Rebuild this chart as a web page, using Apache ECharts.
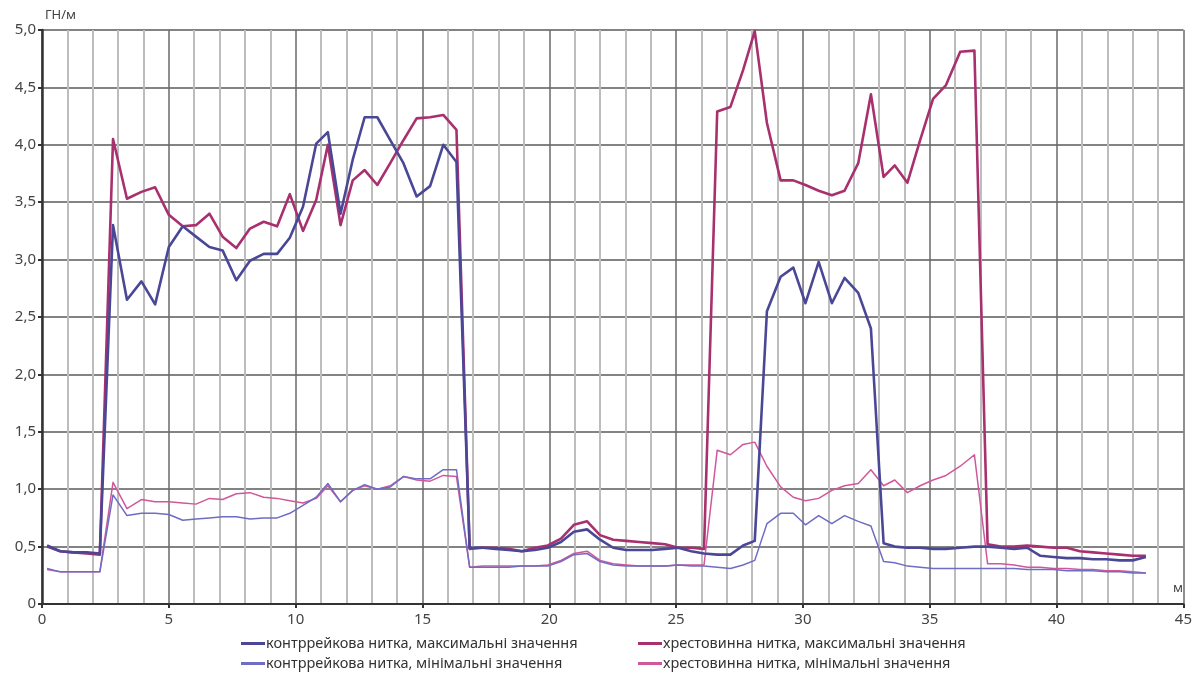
<!DOCTYPE html>
<html>
<head>
<meta charset="utf-8">
<script src="https://cdn.jsdelivr.net/npm/echarts@6/dist/echarts.min.js"></script>
<style>
  html, body { margin: 0; padding: 0; background: #ffffff; }
  #chart { width: 1195px; height: 675px; }
</style>
</head>
<body>
<div id="chart"></div>
<script>
// Distance along the turnout, m
const positions = [
  0.20, 0.72, 1.24, 1.76, 2.28,
  2.80, 3.35, 3.92, 4.46, 5.00, 5.55, 6.07, 6.60, 7.12, 7.66, 8.20, 8.74, 9.27, 9.77,
  10.29, 10.81, 11.27, 11.77, 12.25, 12.72, 13.22, 13.73, 14.25, 14.77, 15.30, 15.82, 16.34,
  16.86, 17.37, 17.89, 18.40, 18.92, 19.43, 19.94, 20.46, 20.97, 21.49, 22.00, 22.52,
  23.03, 23.54, 24.06, 24.57, 25.08, 25.60, 26.10,
  26.62, 27.14, 27.64, 28.10, 28.58, 29.12, 29.62, 30.10, 30.62, 31.14, 31.64, 32.18,
  32.68, 33.18, 33.62, 34.12, 34.62, 35.13, 35.64, 36.20, 36.76, 37.28, 37.80, 38.32,
  38.84, 39.36, 39.88, 40.40, 40.92, 41.44, 41.96, 42.48, 43.00, 43.52
];

// Counter-rail thread, GN/m
const counterRailMax = [
  0.51, 0.46, 0.45, 0.45, 0.44,
  3.30, 2.65, 2.81, 2.61, 3.11, 3.29, 3.20, 3.11, 3.08, 2.82, 2.99, 3.05, 3.05, 3.19,
  3.46, 4.01, 4.11, 3.40, 3.87, 4.24, 4.24, 4.04, 3.84, 3.55, 3.64, 4.00, 3.85,
  0.49, 0.49, 0.48, 0.47, 0.46, 0.47, 0.49, 0.54, 0.63, 0.65, 0.56, 0.49,
  0.47, 0.47, 0.47, 0.48, 0.49, 0.46, 0.44,
  0.43, 0.43, 0.51, 0.55, 2.55, 2.85, 2.93, 2.62, 2.98, 2.62, 2.84, 2.71,
  2.40, 0.53, 0.50, 0.49, 0.49, 0.48, 0.48, 0.49, 0.50, 0.50, 0.49, 0.48,
  0.49, 0.42, 0.41, 0.40, 0.40, 0.39, 0.39, 0.38, 0.38, 0.41
];
const counterRailMin = [
  0.31, 0.28, 0.28, 0.28, 0.28,
  0.95, 0.77, 0.79, 0.79, 0.78, 0.73, 0.74, 0.75, 0.76, 0.76, 0.74, 0.75, 0.75, 0.79,
  0.86, 0.93, 1.05, 0.89, 0.99, 1.04, 1.00, 1.02, 1.11, 1.09, 1.09, 1.17, 1.17,
  0.32, 0.32, 0.32, 0.32, 0.33, 0.33, 0.33, 0.37, 0.43, 0.44, 0.37, 0.34,
  0.33, 0.33, 0.33, 0.33, 0.34, 0.33, 0.33,
  0.32, 0.31, 0.34, 0.38, 0.70, 0.79, 0.79, 0.69, 0.77, 0.70, 0.77, 0.72,
  0.68, 0.37, 0.36, 0.33, 0.32, 0.31, 0.31, 0.31, 0.31, 0.31, 0.31, 0.31,
  0.30, 0.30, 0.30, 0.29, 0.29, 0.29, 0.28, 0.28, 0.27, 0.27
];

// Frog thread, GN/m
const frogMax = [
  0.50, 0.46, 0.45, 0.44, 0.43,
  4.05, 3.53, 3.59, 3.63, 3.39, 3.29, 3.30, 3.40, 3.20, 3.10, 3.27, 3.33, 3.29, 3.57,
  3.25, 3.52, 4.00, 3.30, 3.69, 3.78, 3.65, 3.84, 4.04, 4.23, 4.24, 4.26, 4.13,
  0.48, 0.49, 0.49, 0.48, 0.46, 0.49, 0.51, 0.57, 0.69, 0.72, 0.60, 0.56,
  0.55, 0.54, 0.53, 0.52, 0.49, 0.49, 0.48,
  4.29, 4.33, 4.65, 4.99, 4.19, 3.69, 3.69, 3.65, 3.60, 3.56, 3.60, 3.84,
  4.44, 3.72, 3.82, 3.67, 4.04, 4.40, 4.52, 4.81, 4.82, 0.52, 0.50, 0.50,
  0.51, 0.50, 0.49, 0.49, 0.46, 0.45, 0.44, 0.43, 0.42, 0.42
];
const frogMin = [
  0.30, 0.28, 0.28, 0.28, 0.28,
  1.06, 0.83, 0.91, 0.89, 0.89, 0.88, 0.87, 0.92, 0.91, 0.96, 0.97, 0.93, 0.92, 0.90,
  0.88, 0.92, 1.03, 0.89, 0.99, 1.03, 1.00, 1.03, 1.11, 1.08, 1.07, 1.12, 1.11,
  0.32, 0.33, 0.33, 0.33, 0.33, 0.33, 0.34, 0.38, 0.44, 0.46, 0.38, 0.35,
  0.34, 0.33, 0.33, 0.33, 0.34, 0.34, 0.34,
  1.34, 1.30, 1.39, 1.41, 1.20, 1.02, 0.93, 0.90, 0.92, 0.99, 1.03, 1.05,
  1.17, 1.03, 1.08, 0.97, 1.03, 1.08, 1.12, 1.20, 1.30, 0.35, 0.35, 0.34,
  0.32, 0.32, 0.31, 0.31, 0.30, 0.30, 0.29, 0.29, 0.28, 0.27
];

const seriesNames = [
  'контррейкова нитка, максимальні значення',
  'контррейкова нитка, мінімальні значення',
  'хрестовинна нитка, максимальні значення',
  'хрестовинна нитка, мінімальні значення'
];
const seriesColors = ['#4a4896', '#6e6cc4', '#a8306e', '#d0579a'];
const seriesWidths = [2.6, 1.5, 2.6, 1.5];
const seriesValues = [counterRailMax, counterRailMin, frogMax, frogMin];

const FONT = '"Noto Sans", "Open Sans", sans-serif';

function pairs(values) {
  return positions.map((x, i) => [x, values[i]]);
}

// Frog lines go underneath, counter-rail lines on top
const drawOrder = [2, 3, 0, 1];
const series = drawOrder.map(k => ({
  name: seriesNames[k],
  type: 'line',
  data: pairs(seriesValues[k]),
  showSymbol: false,
  symbol: 'none',
  animation: false,
  color: seriesColors[k],
  lineStyle: { width: seriesWidths[k], color: seriesColors[k], join: 'round' },
  z: 3 + drawOrder.indexOf(k)
}));

// Legend: two columns of two entries, one legend block per entry
const legendSlots = [
  { left: 241, top: 636 },
  { left: 241, top: 656 },
  { left: 638, top: 636 },
  { left: 638, top: 656 }
];
const legends = seriesNames.map((name, k) => ({
  left: legendSlots[k].left,
  top: legendSlots[k].top,
  orient: 'horizontal',
  padding: 0,
  icon: 'rect',
  itemWidth: 24,
  itemHeight: 3,
  selectedMode: false,
  data: [name],
  textStyle: { fontFamily: FONT, fontSize: 14.5, color: '#333', padding: [0, 0, 0, -4] }
}));

const chart = echarts.init(document.getElementById('chart'), null, { renderer: 'canvas' });

chart.setOption({
  backgroundColor: '#ffffff',
  animation: false,
  grid: { left: 42, right: 7, top: 30, bottom: 71, containLabel: false },
  legend: legends,
  xAxis: {
    type: 'value',
    min: 0,
    max: 45,
    interval: 5,
    axisLine: { show: true, onZero: false, lineStyle: { color: '#333', width: 2 } },
    axisTick: { show: true, length: 4, inside: false, lineStyle: { color: '#333', width: 2 } },
    axisLabel: { fontFamily: FONT, fontSize: 15, color: '#444', margin: 8 },
    splitLine: { show: true, lineStyle: { color: '#6a6a6a', width: 1.5 } },
    minorTick: { show: false, splitNumber: 5 },
    minorSplitLine: { show: true, lineStyle: { color: '#bdbdbd', width: 2 } }
  },
  yAxis: {
    type: 'value',
    min: 0,
    max: 5,
    interval: 0.5,
    axisLine: { show: true, lineStyle: { color: '#333', width: 2.5 } },
    axisTick: { show: true, length: 4, lineStyle: { color: '#333', width: 2 } },
    axisLabel: {
      fontFamily: FONT, fontSize: 15, color: '#444', margin: 6,
      formatter: v => (v === 0 ? '0' : v.toFixed(1).replace('.', ','))
    },
    splitLine: { show: true, lineStyle: { color: '#5a5a5a', width: 1.5 } }
  },
  graphic: [
    { type: 'text', left: 45, top: 9, style: { text: 'ГН/м', fontFamily: FONT, fontSize: 13, fill: '#444' } },
    { type: 'text', left: 1173, top: 582, style: { text: 'м', fontFamily: FONT, fontSize: 13, fill: '#444' } }
  ],
  series: series
});
</script>
</body>
</html>
